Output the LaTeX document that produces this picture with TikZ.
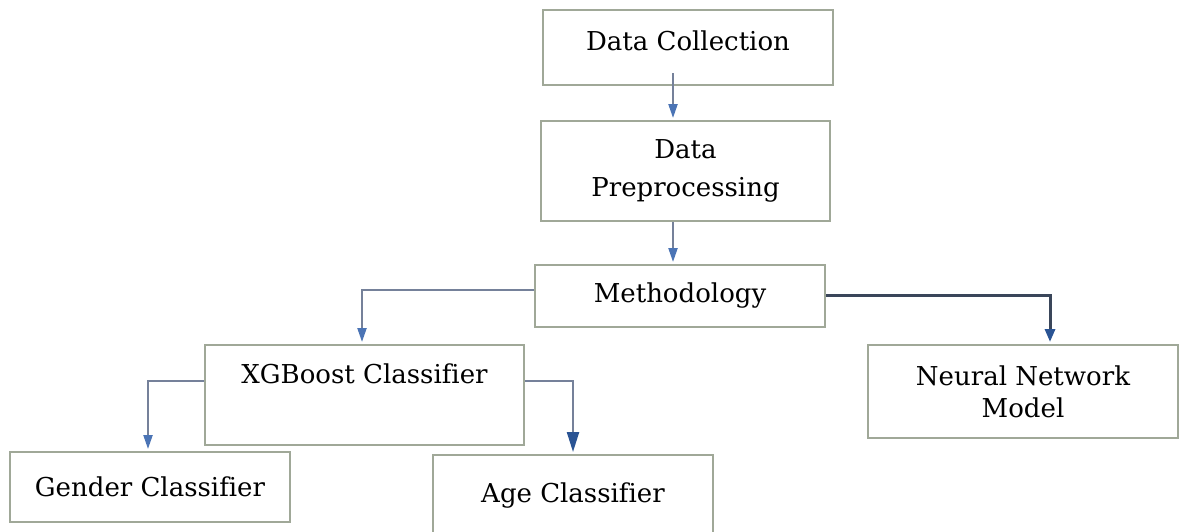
\documentclass[tikz,border=0pt]{standalone}
\usepackage{fontspec}
\setmainfont{DejaVu Serif}[Ligatures=NoCommon]
\usetikzlibrary{arrows.meta}
\definecolor{boxline}{HTML}{A0A898}
\definecolor{wire}{HTML}{75819A}
\definecolor{wiredark}{HTML}{3A465A}
\definecolor{tipblue}{HTML}{4B74B5}
\definecolor{tipdark}{HTML}{2A5494}
\begin{document}
\begin{tikzpicture}[x=0.5pt,y=-0.5pt,
  box/.style={draw=boxline, line width=1pt, fill=white, align=center,
    inner sep=0pt, font=\fontsize{13}{19}\selectfont},
  wire/.style={draw=wire, line width=1.1pt, shorten >=1pt,
    -{Triangle[length=7pt,width=4.5pt,color=tipblue]}},
  wirebig/.style={draw=wire, line width=1.1pt, shorten >=1pt,
    -{Triangle[length=10pt,width=6pt,color=tipdark]}},
  wiredark/.style={draw=wiredark, line width=1.5pt, shorten >=1pt,
    -{Triangle[length=6.5pt,width=5pt,color=tipdark]}}]
\useasboundingbox (0,0) rectangle (1181,531);

% boxes
\node[box, minimum width=145pt, minimum height=37.5pt, text height=9.5pt, text depth=7pt]
  (dc) at (688,47.5) {Data Collection};
\node[box, minimum width=144.5pt, minimum height=50pt]
  (dp) at (685.5,171) {Data\\Preprocessing};
\node[box, minimum width=145pt, minimum height=31pt]
  (meth) at (680,296) {Methodology};
\node[box, minimum width=159.5pt, minimum height=50pt, text height=10pt, text depth=22pt]
  (xgb) at (364.5,395) {XGBoost Classifier};
\node[box, minimum width=155pt, minimum height=46.5pt, font=\fontsize{13}{16}\selectfont]
  (nn) at (1023,391.5) {Neural Network\\Model};
\node[box, minimum width=140pt, minimum height=35pt]
  (gender) at (150,487) {Gender Classifier};
\node[box, minimum width=140pt, minimum height=40pt]
  (age) at (573,495) {Age Classifier};

% connectors
\coordinate (a1) at (673,73);
\draw[wire] (a1) -- (a1 |- dp.north);
\draw[wire] (dp.south -| a1) -- (meth.north -| a1);
\draw[wire] ([yshift=3pt]meth.west) -| ([xshift=-1.25pt]xgb.north);
\draw[wiredark] ([yshift=0.5pt]meth.east) -| ([xshift=13.5pt]nn.north);
\draw[wire] ([yshift=7pt]xgb.west) -| ([xshift=-1pt]gender.north);
\draw[wirebig] ([yshift=7pt]xgb.east) -| (age.north);
\end{tikzpicture}
\end{document}
